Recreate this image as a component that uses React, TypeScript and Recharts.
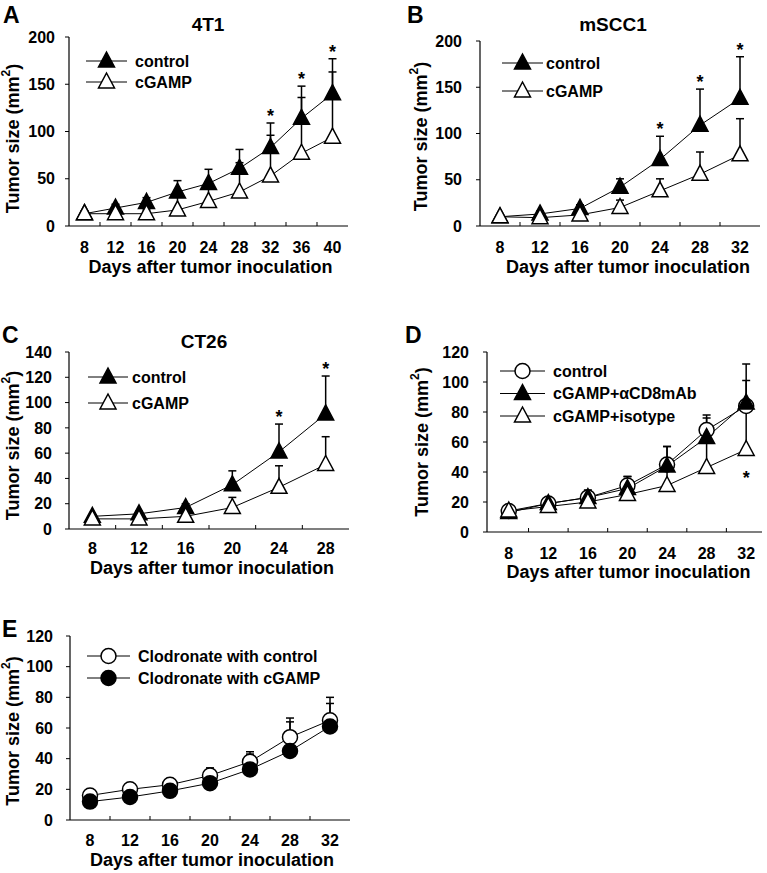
import { ErrorBar, LabelList, Legend, Line, LineChart, XAxis, YAxis } from "recharts";

const FONT = '"Liberation Sans", Arial, sans-serif';

// ---- A: 4T1
const daysA = [8, 12, 16, 20, 24, 28, 32, 36, 40];
const controlA = [13, 19, 25, 36, 45, 61, 83, 114, 140];
const controlSdA = [3, 4, 5, 12, 15, 20, 26, 34, 37];
const cgampA = [13, 13, 13, 17, 26, 36, 53, 77, 94];
const cgampSdA = [2, 3, 4, 15, 16, 31, 43, 59, 69];
const starsA = [32, 36, 40];
const yTicksA = [0, 50, 100, 150, 200];

// ---- B: mSCC1
const daysB = [8, 12, 16, 20, 24, 28, 32];
const controlB = [10, 13, 19, 42, 72, 109, 138];
const controlSdB = [2, 3, 4, 9, 25, 39, 45];
const cgampB = [10, 9, 12, 20, 38, 56, 77];
const cgampSdB = [2, 2, 3, 8, 13, 24, 39];
const starsB = [24, 28, 32];
const yTicksB = [0, 50, 100, 150, 200];

// ---- C: CT26
const daysC = [8, 12, 16, 20, 24, 28];
const controlC = [10, 12, 17, 35, 61, 91];
const controlSdC = [1, 2, 3, 11, 22, 30];
const cgampC = [8, 8, 10, 17, 33, 51];
const cgampSdC = [1, 1, 2, 8, 17, 22];
const starsC = [24, 28];
const yTicksC = [0, 20, 40, 60, 80, 100, 120, 140];

// ---- D: CD8 depletion
const daysD = [8, 12, 16, 20, 24, 28, 32];
const controlD = [14, 19, 23, 31, 45, 68, 84];
const controlSdD = [2, 2, 5, 6, 12, 10, 28];
const cd8D = [13, 19, 23, 29, 44, 63, 86];
const cd8SdD = [1, 3, 4, 8, 13, 13, 15];
const isoD = [14, 17, 20, 25, 31, 43, 55];
const isoSdD = [1, 2, 2, 4, 10, 18, 27];
const starsD = [32];
const yTicksD = [0, 20, 40, 60, 80, 100, 120];

// ---- E: clodronate
const daysE = [8, 12, 16, 20, 24, 28, 32];
const clodCtlE = [16, 20, 23, 29, 38, 54, 65];
const clodCtlSdE = [1, 2, 2, 5, 6.5, 12.5, 15];
const clodCgE = [12, 15, 19, 24, 33, 45, 61];
const clodCgSdE = [1, 1, 2, 3, 10, 19, 15];
const yTicksE = [0, 20, 40, 60, 80, 100, 120];

type Kind = "triFilled" | "triOpen" | "circOpen" | "circFilled";
type Series = { name: string; mean: number[]; sd: number[]; kind: Kind };
type PanelCfg = {
  left: number;
  top: number;
  width: number;
  height: number;
  plot: { left: number; top: number; right: number; bottom: number };
  tickGap: number;
  days: number[];
  xDomain: [number, number];
  yTicks: number[];
  series: Series[];
  stars: number[];
  starOn: number;
  starBelow?: boolean;
  xLabelDy: number;
  xTitleDy: number;
  xTitleDx: number;
  yTitleX: number;
  yTitleDy: number;
  legend: { left: number; top: number; rowGap: number; lineLen: number; textX: number };
};

function Marker({ kind, cx, cy }: { kind: Kind; cx: number; cy: number }) {
  const fill = kind.endsWith("Filled") ? "#000" : "#fff";
  if (kind.startsWith("tri")) {
    return (
      <path
        d={`M${cx},${cy - 9}L${cx + 8},${cy + 6}L${cx - 8},${cy + 6}Z`}
        fill={fill}
        stroke="#000"
        strokeWidth={1.5}
        strokeLinejoin="miter"
      />
    );
  }
  return <circle cx={cx} cy={cy} r={7.5} fill={fill} stroke="#000" strokeWidth={1.5} />;
}

function DayTick(props: any) {
  const { x, y, payload, days, dy } = props;
  if (days.includes(payload.value)) {
    return (
      <text x={x} y={y + dy} textAnchor="middle" dominantBaseline="central" fontSize={16} fontWeight={700} fontFamily={FONT} fill="#000">
        {payload.value}
      </text>
    );
  }
  return <line x1={x} x2={x} y1={y} y2={y - 4} stroke="#000" strokeWidth={1} />;
}

function XTitle(props: any) {
  const vb = props.viewBox ?? { x: 0, y: 0, width: 0, height: 0 };
  return (
    <text
      x={vb.x + vb.width / 2 + props.dx}
      y={vb.y + props.dy}
      textAnchor="middle"
      dominantBaseline="central"
      fontSize={18}
      fontWeight={700}
      fontFamily={FONT}
      fill="#000"
    >
      Days after tumor inoculation
    </text>
  );
}

function YTitle(props: any) {
  const vb = props.viewBox ?? { x: 0, y: 0, width: 0, height: 0 };
  const cy = vb.y + vb.height / 2 + props.dy;
  return (
    <text
      transform={`translate(${props.cx},${cy}) rotate(-90)`}
      textAnchor="middle"
      dominantBaseline="central"
      fontSize={18}
      fontWeight={700}
      fontFamily={FONT}
      fill="#000"
    >
      <tspan>Tumor size (mm</tspan>
      <tspan dy={-7} fontSize={12}>2</tspan>
      <tspan dy={7}>)</tspan>
    </text>
  );
}

function Key({ items, rowGap, lineLen, textX }: { items: Series[]; rowGap: number; lineLen: number; textX: number }) {
  return (
    <svg width={300} height={items.length * rowGap + 10} style={{ overflow: "visible" }}>
      {items.map((s, i) => {
        const cy = 11 + i * rowGap;
        return (
          <g key={s.name}>
            <line x1={0} x2={lineLen} y1={cy} y2={cy} stroke="#000" strokeWidth={1} />
            <Marker kind={s.kind} cx={lineLen / 2} cy={cy} />
            <text x={textX} y={cy} dominantBaseline="central" fontSize={16} fontWeight={700} fontFamily={FONT} fill="#000">
              {s.name}
            </text>
          </g>
        );
      })}
    </svg>
  );
}

function buildRows(p: PanelCfg) {
  return p.days.map((d, i) => {
    const row: Record<string, any> = { day: d };
    p.series.forEach((s, k) => {
      row[`s${k}`] = s.mean[i];
      row[`e${k}`] = [0, s.sd[i]];
    });
    const on = p.series[p.starOn];
    row.star = p.stars.includes(d) ? (p.starBelow ? on.mean[i] : on.mean[i] + on.sd[i]) : null;
    return row;
  });
}

function Panel({ cfg }: { cfg: PanelCfg }) {
  const data = buildRows(cfg);
  const mids = cfg.days.slice(1).map((d, i) => (d + cfg.days[i]) / 2);
  const xTicks = [...cfg.days, ...mids].sort((a, b) => a - b);
  const yMax = cfg.yTicks[cfg.yTicks.length - 1];
  const starDy = cfg.starBelow ? 34 : -1;
  return (
    <div style={{ position: "absolute", left: cfg.left, top: cfg.top }}>
      <LineChart
        width={cfg.width}
        height={cfg.height}
        data={data}
        margin={{ top: cfg.plot.top, right: cfg.width - cfg.plot.right, bottom: 0, left: 0 }}
      >
        <XAxis
          dataKey="day"
          type="number"
          domain={cfg.xDomain}
          ticks={xTicks}
          interval={0}
          allowDataOverflow
          height={cfg.height - cfg.plot.bottom}
          tickLine={false}
          tickSize={0}
          tickMargin={0}
          axisLine={{ stroke: "#000", strokeWidth: 1.2 }}
          tick={<DayTick days={cfg.days} dy={cfg.xLabelDy} />}
          label={<XTitle dx={cfg.xTitleDx} dy={cfg.xTitleDy} />}
        />
        <XAxis
          xAxisId="top"
          orientation="top"
          type="number"
          domain={cfg.xDomain}
          allowDataOverflow
          height={0}
          tick={false}
          tickLine={false}
          axisLine={{ stroke: "#666", strokeWidth: 1 }}
        />
        <YAxis
          type="number"
          domain={[0, yMax]}
          ticks={cfg.yTicks}
          interval={0}
          allowDataOverflow
          width={cfg.plot.left}
          tickSize={4}
          tickMargin={cfg.tickGap}
          tickLine={{ stroke: "#000" }}
          axisLine={{ stroke: "#000", strokeWidth: 1.2 }}
          tick={{ fontSize: 16, fontWeight: 700, fill: "#000", fontFamily: FONT }}
          label={<YTitle cx={cfg.yTitleX} dy={cfg.yTitleDy} />}
        />
        <YAxis
          yAxisId="right"
          orientation="right"
          type="number"
          domain={[0, yMax]}
          allowDataOverflow
          width={0}
          tick={false}
          tickLine={false}
          axisLine={{ stroke: "#666", strokeWidth: 1 }}
        />
        <Legend
          layout="vertical"
          align="center"
          verticalAlign="middle"
          wrapperStyle={{ left: cfg.legend.left, top: cfg.legend.top, width: 300 }}
          content={() => (
            <Key items={cfg.series} rowGap={cfg.legend.rowGap} lineLen={cfg.legend.lineLen} textX={cfg.legend.textX} />
          )}
        />
        {cfg.series.map((s, k) => (
          <Line
            key={s.name}
            dataKey={`s${k}`}
            name={s.name}
            stroke="#000"
            strokeWidth={1}
            type="linear"
            isAnimationActive={false}
            activeDot={false}
            dot={(p: any) => <Marker key={`${s.name}-${p.index}`} kind={s.kind} cx={p.cx} cy={p.cy} />}
          >
            <ErrorBar dataKey={`e${k}`} direction="y" width={4} strokeWidth={1.5} stroke="#000" />
          </Line>
        ))}
        <Line
          dataKey="star"
          stroke="none"
          dot={false}
          activeDot={false}
          legendType="none"
          isAnimationActive={false}
        >
          <LabelList
            dataKey="star"
            content={(p: any) =>
              p.value == null || p.y == null ? null : (
                <text x={p.x} y={p.y + starDy} textAnchor="middle" fontSize={18} fontWeight={700} fontFamily={FONT} fill="#000">
                  *
                </text>
              )
            }
          />
        </Line>
      </LineChart>
    </div>
  );
}

const panels: PanelCfg[] = [
  {
    left: 0, top: 0, width: 380, height: 285,
    plot: { left: 69, top: 37, right: 348, bottom: 226 },
    tickGap: 10, days: daysA, xDomain: [6, 42], yTicks: yTicksA,
    series: [
      { name: "control", mean: controlA, sd: controlSdA, kind: "triFilled" },
      { name: "cGAMP", mean: cgampA, sd: cgampSdA, kind: "triOpen" },
    ],
    stars: starsA, starOn: 0,
    xLabelDy: 21, xTitleDy: 41, xTitleDx: 2, yTitleX: 13, yTitleDy: 7,
    legend: { left: 86, top: 50, rowGap: 21, lineLen: 41, textX: 49 },
  },
  {
    left: 380, top: 0, width: 387, height: 285,
    plot: { left: 100, top: 41, right: 380, bottom: 226 },
    tickGap: 14, days: daysB, xDomain: [6, 34], yTicks: yTicksB,
    series: [
      { name: "control", mean: controlB, sd: controlSdB, kind: "triFilled" },
      { name: "cGAMP", mean: cgampB, sd: cgampSdB, kind: "triOpen" },
    ],
    stars: starsB, starOn: 0,
    xLabelDy: 21, xTitleDy: 41, xTitleDx: 8, yTitleX: 41, yTitleDy: 3,
    legend: { left: 122, top: 52, rowGap: 28, lineLen: 41, textX: 44 },
  },
  {
    left: 0, top: 290, width: 380, height: 298,
    plot: { left: 69, top: 62, right: 349, bottom: 239 },
    tickGap: 13, days: daysC, xDomain: [6, 30], yTicks: yTicksC,
    series: [
      { name: "control", mean: controlC, sd: controlSdC, kind: "triFilled" },
      { name: "cGAMP", mean: cgampC, sd: cgampSdC, kind: "triOpen" },
    ],
    stars: starsC, starOn: 0,
    xLabelDy: 19, xTitleDy: 39, xTitleDx: 3, yTitleX: 13, yTitleDy: 5,
    legend: { left: 88, top: 76, rowGap: 26, lineLen: 40, textX: 44 },
  },
  {
    left: 380, top: 290, width: 387, height: 298,
    plot: { left: 107, top: 62, right: 382, bottom: 242 },
    tickGap: 14, days: daysD, xDomain: [5.8, 33.6], yTicks: yTicksD,
    series: [
      { name: "control", mean: controlD, sd: controlSdD, kind: "circOpen" },
      { name: "cGAMP+αCD8mAb", mean: cd8D, sd: cd8SdD, kind: "triFilled" },
      { name: "cGAMP+isotype", mean: isoD, sd: isoSdD, kind: "triOpen" },
    ],
    stars: starsD, starOn: 2, starBelow: true,
    xLabelDy: 21, xTitleDy: 40, xTitleDx: 4, yTitleX: 42, yTitleDy: 0,
    legend: { left: 120, top: 70, rowGap: 22.5, lineLen: 45, textX: 53 },
  },
  {
    left: 0, top: 590, width: 380, height: 283,
    plot: { left: 70, top: 46, right: 350, bottom: 230 },
    tickGap: 13, days: daysE, xDomain: [6, 34], yTicks: yTicksE,
    series: [
      { name: "Clodronate with control", mean: clodCtlE, sd: clodCtlSdE, kind: "circOpen" },
      { name: "Clodronate with cGAMP", mean: clodCgE, sd: clodCgSdE, kind: "circFilled" },
    ],
    stars: [], starOn: 0,
    xLabelDy: 20, xTitleDy: 40, xTitleDx: 2, yTitleX: 13, yTitleDy: 3,
    legend: { left: 87, top: 55, rowGap: 22, lineLen: 43, textX: 51 },
  },
];

const letters = [
  { text: "A", x: 3, cy: 15 },
  { text: "B", x: 407, cy: 15 },
  { text: "C", x: 2, cy: 335 },
  { text: "D", x: 405, cy: 335 },
  { text: "E", x: 2, cy: 629 },
];

const titles = [
  { text: "4T1", cx: 208, cy: 25 },
  { text: "mSCC1", cx: 613, cy: 25 },
  { text: "CT26", cx: 204, cy: 342 },
];

export default function App() {
  return (
    <div
      style={{
        position: "absolute",
        left: 0,
        top: 0,
        width: 767,
        height: 873,
        background: "#fff",
        fontFamily: FONT,
        fontWeight: 700,
        color: "#000",
        overflow: "hidden",
      }}
    >
      {panels.map((cfg, i) => (
        <Panel key={i} cfg={cfg} />
      ))}
      {letters.map((l) => (
        <div key={l.text} style={{ position: "absolute", left: l.x, top: l.cy - 14, fontSize: 23, lineHeight: "28px" }}>
          {l.text}
        </div>
      ))}
      {titles.map((t) => (
        <div
          key={t.text}
          style={{ position: "absolute", left: t.cx - 100, width: 200, top: t.cy - 12, fontSize: 19, lineHeight: "24px", textAlign: "center" }}
        >
          {t.text}
        </div>
      ))}
    </div>
  );
}
